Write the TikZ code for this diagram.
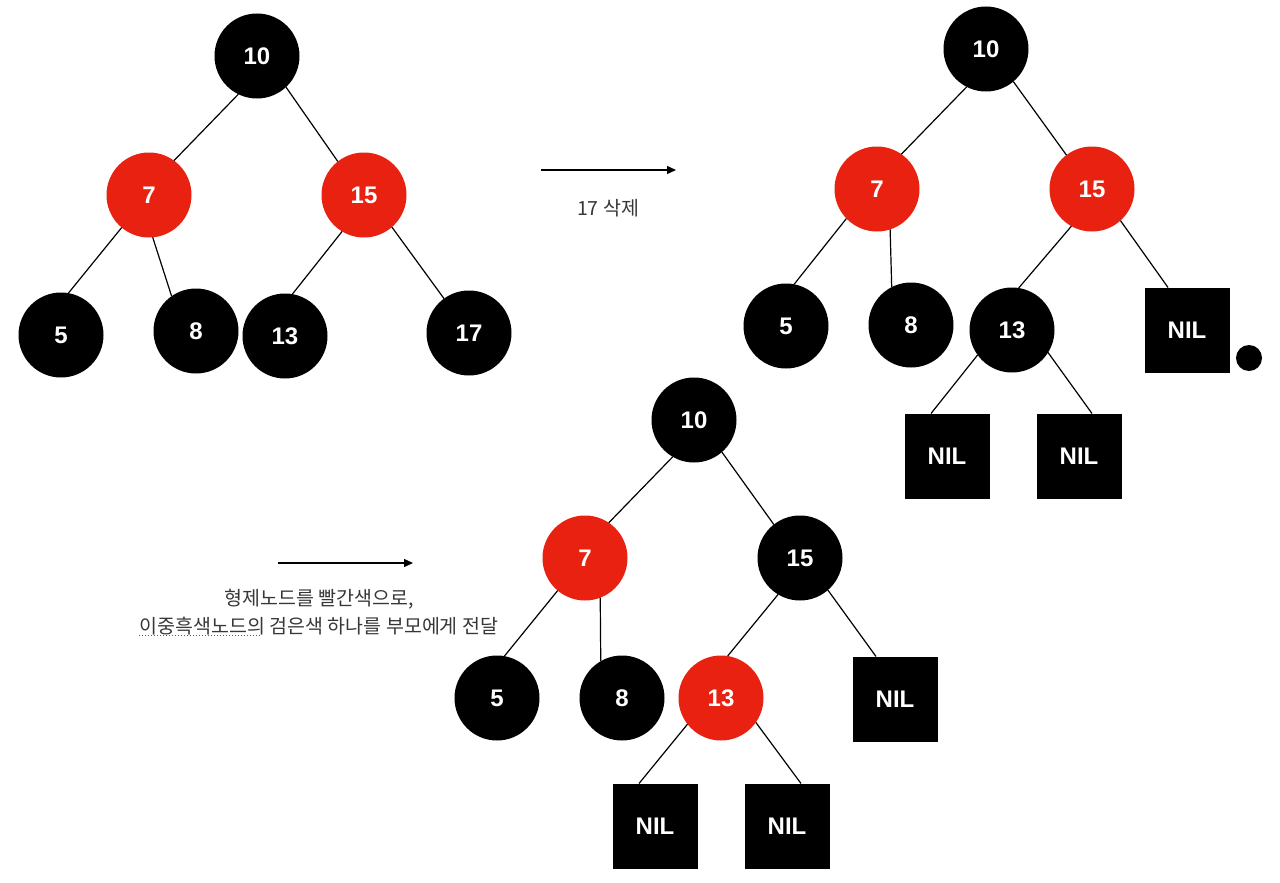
\documentclass[tikz,border=0pt]{standalone}
\usepackage{fontspec}
\setmainfont{Liberation Sans}
\newfontfamily\krfont{Noto Sans CJK KR}
\usetikzlibrary{arrows.meta}
\definecolor{rbred}{RGB}{232,33,16}
\definecolor{txtgray}{RGB}{55,55,55}

\tikzset{
  blknode/.style={circle,fill=black,minimum size=85pt,inner sep=0pt,outer sep=0pt,
    text=white,font=\fontsize{24}{24}\selectfont\bfseries},
  rednode/.style={blknode,fill=rbred},
  nilnode/.style={rectangle,fill=black,minimum size=85pt,inner sep=0pt,outer sep=0pt,
    text=white,font=\fontsize{24}{24}\selectfont\bfseries},
  edge/.style={line width=1.2pt},
  movearrow/.style={-{Triangle[length=9pt,width=8pt]},line width=1.4pt},
  note/.style={text=txtgray,font=\krfont\fontsize{19.5}{28}\selectfont,align=center}
}

\begin{document}
\begin{tikzpicture}[x=1pt,y=-1pt]
    \useasboundingbox (0,0) rectangle (1280,883);

    % First tree - before deleting 17
    \node[blknode] (a10) at (257,56) {10};
    \node[rednode] (a7) at (149,195) {7};
    \node[rednode] (a15) at (364,195) {15};
    \node[blknode] (a5) at (61,335) {5};
    \node[blknode] (a8) at (196,331) {8};
    \node[blknode] (a13) at (285,336) {13};
    \node[blknode] (a17) at (469,333) {17};

    \draw[edge] (a10.244) -- (a7.54);
    \draw[edge] (a10.313) -- (a15.128);
    \draw[edge] (a7.230) -- (a5.80);
    \draw[edge] (a7.275) -- (a8.125);
    \draw[edge] (a15.239) -- (a13.80);
    \draw[edge] (a15.311) -- (a17.126);

    % Arrow - delete 17
    \coordinate (s1) at (541,170);
    \coordinate (e1) at (676,170);
    \draw[movearrow] (s1) -- (e1);
    \node[note] (t1) at (608,208) {17 삭제};

    % Second tree - double black NIL
    \node[blknode] (b10) at (986,49) {10};
    \node[rednode] (b7) at (877,189) {7};
    \node[rednode] (b15) at (1092,189) {15};
    \node[blknode] (b5) at (786,326) {5};
    \node[blknode] (b8) at (911,325) {8};
    \node[blknode] (b13) at (1012,330) {13};
    \node[nilnode] (bnil) at (1187,330) {NIL};
    \node[circle,fill=black,minimum size=26pt,inner sep=0pt] (bdot) at (1249,358) {};
    \node[nilnode] (bnill) at (947,456) {NIL};
    \node[nilnode] (bnilr) at (1079,456) {NIL};

    \draw[edge] (b10.243) -- (b7.55);
    \draw[edge] (b10.310) -- (b15.127);
    \draw[edge] (b7.224) -- (b5.79);
    \draw[edge] (b7.288) -- (b8.117);
    \draw[edge] (b15.241) -- (b13.81);
    \draw[edge] (b15.312) -- ([xshift=-19pt]bnil.north);
    \draw[edge] (b13.216) -- ([xshift=-16pt]bnill.north);
    \draw[edge] (b13.328) -- ([xshift=13pt]bnilr.north);

    % Arrow - recolor sibling
    \coordinate (s2) at (278,563);
    \coordinate (e2) at (413,563);
    \draw[movearrow] (s2) -- (e2);
    \node[note] (t2) at (319,612) {형제노드를 빨간색으로,\\이중흑색노드의 검은색 하나를 부모에게 전달};
    \draw[rbred,dotted,line width=1pt] (139,635) -- (261,635);

    % Third tree - after recoloring
    \node[blknode] (c10) at (694,420) {10};
    \node[rednode] (c7) at (585,558) {7};
    \node[blknode] (c15) at (800,558) {15};
    \node[blknode] (c5) at (497,698) {5};
    \node[blknode] (c8) at (622,698) {8};
    \node[rednode] (c13) at (721,698) {13};
    \node[nilnode] (cnil) at (895,699) {NIL};
    \node[nilnode] (cnill) at (655,826) {NIL};
    \node[nilnode] (cnilr) at (787,826) {NIL};

    \draw[edge] (c10.240) -- (c7.56);
    \draw[edge] (c10.311) -- (c15.128);
    \draw[edge] (c7.230) -- (c5.80);
    \draw[edge] (c7.291) -- (c8.120);
    \draw[edge] (c15.239) -- (c13.81);
    \draw[edge] (c15.311) -- ([xshift=-19pt]cnil.north);
    \draw[edge] (c13.218) -- ([xshift=-16pt]cnill.north);
    \draw[edge] (c13.325) -- ([xshift=14pt]cnilr.north);
\end{tikzpicture}
\end{document}
